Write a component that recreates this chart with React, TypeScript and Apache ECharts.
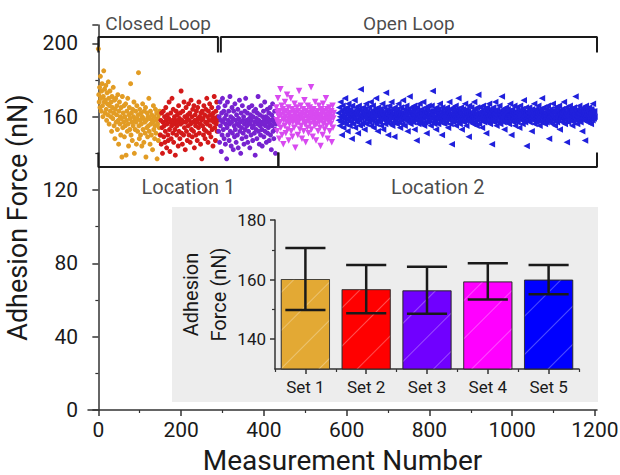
import React, { useEffect, useRef } from "react";
import * as echarts from "echarts";

// Measurement values (nN) for each set, one per measurement
const set1 = [
  197, 172, 168, 176, 165, 182, 170, 163, 174, 178, 166, 160, 171, 185, 168, 175, 162, 169, 177, 164,
  158, 173, 167, 161, 179, 170, 156, 166, 174, 163, 160, 168, 152, 171, 165, 159, 176, 162, 155, 169,
  148, 164, 170, 157, 161, 166, 153, 172, 158, 145, 163, 168, 156, 160, 150, 165, 159, 138, 171, 154,
  162, 157, 166, 149, 160, 155, 167, 139, 158, 163, 152, 170, 156, 144, 161, 165, 153, 159, 178, 150,
  162, 157, 147, 164, 155, 160, 168, 140, 158, 153, 163, 157, 145, 166, 159, 152, 161, 184, 155, 148,
  164, 158, 150, 162, 156, 144, 160, 167, 153, 159, 146, 163, 157, 151, 165, 138, 158, 154, 162, 149,
  160, 155, 170, 152, 159, 145, 163, 156, 150, 161, 158, 142, 157, 166, 153, 160, 148, 155, 164, 151,
  158, 162, 137, 156, 159, 147, 161, 154, 163, 150,
];
const set2 = [
  150, 158, 145, 162, 154, 140, 157, 163, 149, 155, 160, 146, 152, 165, 158, 143, 156, 161, 150, 147,
  159, 168, 153, 141, 157, 162, 148, 155, 170, 158, 151, 164, 146, 156, 160, 153, 139, 158, 163, 150,
  155, 161, 157, 144, 166, 152, 159, 148, 162, 156, 174, 151, 158, 145, 163, 157, 150, 168, 154, 160,
  142, 157, 165, 152, 159, 147, 161, 155, 167, 150, 158, 162, 146, 156, 169, 153, 160, 149, 164, 157,
  152, 166, 143, 158, 161, 155, 150, 163, 157, 147, 165, 159, 154, 168, 151, 160, 156, 145, 162, 158,
  137, 163, 155, 159, 150, 166, 153, 161, 148, 157, 164, 152, 170, 156, 160, 146, 163, 158, 151, 167,
  155, 161, 149, 158, 165, 153, 160, 144, 162, 157, 171, 154, 159, 147, 163, 156, 168, 152, 160, 158,
];
const set3 = [
  165, 152, 160, 146, 168, 155, 158, 141, 162, 150, 170, 157, 153, 163, 148, 159, 166, 145, 156, 161,
  137, 154, 168, 150, 158, 163, 147, 156, 171, 152, 160, 144, 157, 165, 151, 159, 142, 163, 155, 149,
  167, 153, 158, 146, 161, 156, 150, 164, 143, 159, 155, 169, 152, 157, 140, 162, 154, 148, 166, 158,
  151, 160, 145, 156, 163, 153, 170, 149, 158, 155, 162, 146, 157, 152, 165, 159, 143, 156, 161, 150,
  158, 166, 154, 147, 160, 155, 163, 151, 157, 139, 164, 153, 159, 148, 162, 156, 171, 152, 158, 145,
  161, 155, 150, 166, 157, 153, 144, 160, 156, 163, 149, 158, 168, 152, 155, 160, 146, 157, 164, 151,
  159, 154, 162, 147, 156, 165, 150, 158, 142, 161, 155, 167, 152, 159, 148, 157, 163, 153, 140, 156,
];
const set4 = [
  165, 158, 152, 162, 170, 156, 160, 148, 163, 157, 175, 154, 161, 166, 150, 159, 164, 145, 158, 162,
  155, 168, 160, 151, 163, 157, 172, 153, 159, 165, 147, 161, 156, 162, 158, 170, 152, 160, 164, 149,
  157, 163, 159, 154, 167, 161, 143, 158, 162, 156, 165, 160, 150, 163, 157, 174, 159, 153, 161, 166,
  155, 160, 148, 162, 158, 164, 152, 159, 169, 156, 161, 146, 163, 157, 160, 154, 166, 159, 151, 162,
  158, 165, 156, 161, 176, 153, 160, 163, 149, 158, 164, 157, 161, 155, 168, 159, 147, 162, 156, 160,
  163, 152, 159, 166, 157, 161, 154, 144, 160, 164, 158, 162, 150, 167, 156, 159, 163, 153, 161, 158,
  170, 155, 160, 164, 148, 159, 162, 157, 165, 152, 161, 158, 156, 163, 146, 160, 166, 154, 159, 162,
];
const set5 = [
  162, 158, 165, 155, 160, 168, 157, 163, 150, 161, 166, 159, 154, 164, 160, 157, 170, 162, 156, 163,
  159, 165, 152, 161, 167, 158, 163, 155, 160, 164, 157, 162, 148, 166, 159, 161, 156, 163, 160, 169,
  154, 162, 158, 165, 161, 157, 163, 151, 160, 166, 158, 164, 155, 161, 175, 159, 163, 156, 162, 160,
  165, 157, 161, 153, 164, 159, 162, 167, 156, 160, 163, 158, 146, 161, 165, 157, 162, 159, 168, 155,
  160, 163, 158, 166, 161, 154, 162, 159, 164, 157, 161, 170, 156, 163, 160, 152, 165, 158, 162, 161,
  157, 164, 160, 155, 163, 159, 167, 161, 153, 162, 158, 165, 160, 156, 163, 173, 159, 161, 157, 164,
  150, 162, 158, 166, 160, 163, 156, 161, 168, 159, 155, 164, 161, 157, 162, 149, 165, 160, 158, 163,
  161, 156, 164, 159, 162, 167, 157, 160, 163, 154, 161, 165, 158, 162, 160, 156, 169, 161, 159, 164,
  155, 162, 160, 158, 166, 161, 163, 152, 159, 164, 157, 162, 171, 160, 156, 163, 158, 165, 161, 159,
  163, 157, 161, 166, 153, 160, 164, 158, 162, 147, 165, 159, 161, 156, 163, 160, 167, 157, 162, 158,
  160, 164, 156, 162, 159, 168, 161, 155, 163, 160, 157, 165, 162, 151, 159, 164, 160, 157, 166, 161,
  158, 163, 160, 155, 162, 166, 159, 161, 174, 157, 163, 160, 156, 164, 158, 162, 153, 165, 160, 159,
  162, 156, 164, 160, 158, 167, 161, 157, 163, 159, 150, 165, 161, 158, 162, 160, 156, 164, 159, 163,
  157, 161, 165, 159, 162, 154, 163, 160, 168, 158, 161, 156, 164, 160, 145, 162, 159, 165, 157, 161,
  163, 158, 160, 166, 155, 162, 159, 164, 161, 157, 170, 160, 163, 156, 162, 158, 165, 161, 153, 160,
  159, 164, 161, 157, 163, 160, 167, 158, 162, 155, 164, 160, 158, 163, 161, 149, 166, 159, 162, 157,
  161, 165, 158, 162, 160, 156, 163, 159, 168, 161, 157, 164, 160, 162, 155, 165, 158, 161, 172, 159,
  156, 162, 160, 165, 158, 163, 161, 154, 160, 166, 159, 162, 157, 164, 160, 158, 163, 151, 161, 165,
  160, 157, 163, 159, 167, 161, 156, 162, 158, 164, 160, 145, 163, 159, 165, 161, 157, 162, 160, 168,
  158, 163, 155, 161, 164, 160, 157, 162, 159, 166, 161, 156, 163, 160, 158, 171, 162, 159, 164, 157,
  161, 153, 163, 160, 158, 165, 162, 157, 160, 164, 159, 161, 156, 163, 160, 167, 158, 162, 150, 161,
  164, 159, 162, 157, 160, 166, 161, 155, 163, 158, 162, 160, 165, 157, 161, 159, 163, 154, 160, 166,
  159, 162, 158, 164, 161, 156, 163, 160, 169, 158, 162, 157, 161, 165, 159, 144, 163, 160, 158, 162,
  160, 165, 157, 161, 163, 159, 162, 152, 164, 160, 158, 163, 161, 167, 156, 162, 159, 164, 160, 157,
  163, 158, 161, 166, 159, 162, 155, 160, 164, 161, 157, 163, 170, 159, 162, 158, 165, 160, 161, 156,
  162, 159, 164, 157, 161, 160, 166, 158, 163, 148, 160, 162, 157, 164, 161, 159, 163, 156, 167, 160,
  158, 163, 160, 155, 162, 165, 159, 161, 157, 164, 160, 162, 158, 166, 161, 153, 163, 159, 162, 160,
  164, 157, 161, 163, 159, 168, 160, 156, 162, 158, 165, 161, 146, 163, 160, 157, 164, 159, 161, 166,
  159, 162, 158, 164, 160, 155, 163, 161, 157, 165, 160, 162, 159, 171, 158, 163, 160, 156, 164, 161,
  162, 158, 166, 160, 163, 157, 161, 159, 164, 152, 162, 160, 165, 158, 161, 163, 147, 160, 166, 159,
  161, 164, 157, 163, 160, 158, 165, 162, 159, 161, 156, 164, 160, 163, 158, 167, 161, 159, 163, 160,
];

const scatterSets = [set1, set2, set3, set4, set5];
const setStarts = [1, 151, 291, 431, 581];
const scatterColors = ["#E29C24", "#D31919", "#7722D0", "#D84AF0", "#2020DC"];
const scatterSymbols = ["circle", "circle", "circle", "triangle", "triangle"];
const scatterRotate = [0, 0, 0, 180, 90];
const scatterSizes = [5, 5, 5, 6.5, 6.5];

// Inset bar chart
const barCategories = ["Set 1", "Set 2", "Set 3", "Set 4", "Set 5"];
const barMeans = [160.2, 156.8, 156.4, 159.4, 160.0];
const barErrors = [10.4, 8.1, 7.9, 6.1, 4.9];
const barColors = ["#E3A934", "#FF0000", "#7000FF", "#FF00FF", "#0000FF"];

// Axis ticks
const xMajorTicks = [0, 200, 400, 600, 800, 1000, 1200];
const xMinorTicks = [100, 300, 500, 700, 900, 1100];
const insetMajorTicks = [140, 160, 180];
const insetMinorTicks = [150, 170];

// Bracket annotations (measurement-number spans, force levels)
const topBrackets = [
  { label: "Closed Loop", from: 0, to: 289 },
  { label: "Open Loop", from: 296, to: 1205 },
];
const bottomBrackets = [
  { label: "Location 1", from: 0, to: 435 },
  { label: "Location 2", from: 435, to: 1205 },
];
const topBracketLevel = 203.5;
const topBracketTip = 195;
const bottomBracketLevel = 132.5;
const bottomBracketTip = 140.5;

const FONT = "Roboto";
const INK = "#1a1a1a";
const plain = (v: number) => String(v);

export default function App() {
  const ref = useRef<HTMLDivElement>(null);

  useEffect(() => {
    document.body.style.margin = "0";
    if (!ref.current) return;
    const chart = echarts.init(ref.current, null, { renderer: "svg" });

    const scatterSeries = scatterSets.map((vals, s) => ({
      type: "scatter",
      xAxisIndex: 0,
      yAxisIndex: 0,
      symbol: scatterSymbols[s],
      symbolRotate: scatterRotate[s],
      symbolSize: scatterSizes[s],
      itemStyle: { color: scatterColors[s], opacity: 1 },
      data: vals.map((v, i) => [setStarts[s] + i - 1, v]),
      silent: true,
      z: 3,
    }));

    const bracketLine = (from: number, to: number, level: number, tip: number) => ({
      type: "line",
      xAxisIndex: 0,
      yAxisIndex: 0,
      symbol: "none",
      silent: true,
      lineStyle: { color: INK, width: 2 },
      data: [
        [from, tip],
        [from, level],
        [to, level],
        [to, tip],
      ],
      z: 4,
    });

    const bracketSeries = [
      ...topBrackets.map((b) => bracketLine(b.from, b.to, topBracketLevel, topBracketTip)),
      ...bottomBrackets.map((b) => bracketLine(b.from, b.to, bottomBracketLevel, bottomBracketTip)),
    ];

    const labelSeries = [
      {
        type: "scatter",
        xAxisIndex: 0,
        yAxisIndex: 0,
        symbolSize: 0,
        silent: true,
        label: {
          show: true,
          position: "top",
          distance: 4,
          formatter: "{b}",
          color: INK,
          fontSize: 19,
          fontFamily: FONT,
        },
        data: topBrackets.map((b) => ({ name: b.label, value: [(b.from + b.to) / 2, topBracketLevel] })),
      },
      {
        type: "scatter",
        xAxisIndex: 0,
        yAxisIndex: 0,
        symbolSize: 0,
        silent: true,
        label: {
          show: true,
          position: "bottom",
          distance: 10,
          formatter: "{b}",
          color: INK,
          fontSize: 20,
          fontFamily: FONT,
        },
        data: bottomBrackets.map((b) => ({ name: b.label, value: [(b.from + b.to) / 2, bottomBracketLevel] })),
      },
    ];

    const option: any = {
      animation: false,
      textStyle: { fontFamily: FONT },
      graphic: [
        {
          type: "rect",
          shape: { x: 172, y: 207, width: 426, height: 195 },
          style: { fill: "#EDEDED" },
          z: -5,
          silent: true,
        },
      ],
      grid: [
        { left: 88, right: 23, top: 25, bottom: 65, outerBoundsMode: "none", containLabel: false },
        { left: 275, right: 41, top: 220, bottom: 106, outerBoundsMode: "none", containLabel: false },
      ],
      xAxis: [
        {
          type: "value",
          gridIndex: 0,
          position: "bottom",
          min: -25,
          max: 1205,
          name: "Measurement Number",
          nameLocation: "middle",
          nameGap: 36,
          nameTextStyle: { fontSize: 28, color: INK, fontFamily: FONT },
          axisLine: { show: true, lineStyle: { color: "#333", width: 1.5 } },
          axisTick: { show: true, length: 6, customValues: xMajorTicks, lineStyle: { color: "#333", width: 1.5 } },
          axisLabel: { customValues: xMajorTicks, formatter: plain, fontSize: 21, color: INK, margin: 9, fontFamily: FONT },
          splitLine: { show: false },
        },
        {
          type: "value",
          gridIndex: 0,
          position: "bottom",
          min: -25,
          max: 1205,
          axisLine: { show: false },
          axisTick: { show: true, length: 3, customValues: xMinorTicks, lineStyle: { color: "#333", width: 1.2 } },
          axisLabel: { show: false },
          splitLine: { show: false },
        },
        {
          type: "category",
          gridIndex: 1,
          position: "bottom",
          data: barCategories,
          axisLine: { show: true, lineStyle: { color: "#333", width: 1.5 } },
          axisTick: { show: true, alignWithLabel: true, length: 5, lineStyle: { color: "#333", width: 1.5 } },
          axisLabel: { fontSize: 17, color: INK, margin: 9, fontFamily: FONT },
          splitLine: { show: false },
        },
        {
          type: "category",
          gridIndex: 1,
          position: "bottom",
          data: barCategories,
          axisLine: { show: false },
          axisTick: { show: true, length: 3, lineStyle: { color: "#333", width: 1.2 } },
          axisLabel: { show: false },
          splitLine: { show: false },
        },
      ],
      yAxis: [
        {
          type: "value",
          gridIndex: 0,
          position: "left",
          min: 0,
          max: 210,
          interval: 40,
          name: "Adhesion Force (nN)",
          nameLocation: "middle",
          nameGap: 48,
          nameTextStyle: { fontSize: 27, color: INK, fontFamily: FONT },
          axisLine: { show: true, lineStyle: { color: "#333", width: 1.5 } },
          axisTick: { show: true, length: 6, lineStyle: { color: "#333", width: 1.5 } },
          minorTick: { show: true, splitNumber: 2, length: 3, lineStyle: { color: "#333", width: 1.2 } },
          axisLabel: { fontSize: 21, color: INK, margin: 10, fontFamily: FONT },
          splitLine: { show: false },
          minorSplitLine: { show: false },
        },
        {
          type: "value",
          gridIndex: 1,
          position: "left",
          min: 130,
          max: 180,
          name: "Adhesion\nForce (nN)",
          nameLocation: "middle",
          nameGap: 38,
          nameTextStyle: { fontSize: 20, color: INK, lineHeight: 28, fontFamily: FONT },
          axisLine: { show: true, lineStyle: { color: "#333", width: 1.5 } },
          axisTick: { show: true, length: 5, customValues: insetMajorTicks, lineStyle: { color: "#333", width: 1.5 } },
          axisLabel: { customValues: insetMajorTicks, fontSize: 17, color: INK, margin: 9, fontFamily: FONT },
          splitLine: { show: false },
        },
        {
          type: "value",
          gridIndex: 1,
          position: "left",
          min: 130,
          max: 180,
          axisLine: { show: false },
          axisTick: { show: true, length: 3, customValues: insetMinorTicks, lineStyle: { color: "#333", width: 1.2 } },
          axisLabel: { show: false },
          splitLine: { show: false },
        },
      ],
      series: [
        ...scatterSeries,
        ...bracketSeries,
        ...labelSeries,
        {
          type: "bar",
          xAxisIndex: 2,
          yAxisIndex: 1,
          barCategoryGap: "19%",
          silent: true,
          data: barMeans.map((v, i) => ({
            value: v,
            itemStyle: {
              color: barColors[i],
              borderColor: "rgba(40,40,40,0.6)",
              borderWidth: 1,
              decal: {
                symbol: "rect",
                symbolSize: 1,
                dashArrayX: [[1, 0]],
                dashArrayY: [1, 26],
                rotation: -Math.PI / 4,
                color: "rgba(255,255,255,0.3)",
              },
            },
          })),
          z: 2,
        },
        {
          type: "custom",
          xAxisIndex: 2,
          yAxisIndex: 1,
          silent: true,
          z: 10,
          data: barMeans.map((m, i) => [i, m - barErrors[i], m + barErrors[i]]),
          renderItem: (params: any, api: any) => {
            const x = api.value(0);
            const lo = api.coord([x, api.value(1)]);
            const hi = api.coord([x, api.value(2)]);
            const half = api.size([1, 0])[0] * 0.33;
            const style = { stroke: INK, lineWidth: 2.5 };
            return {
              type: "group",
              children: [
                { type: "line", shape: { x1: hi[0], y1: hi[1], x2: lo[0], y2: lo[1] }, style },
                { type: "line", shape: { x1: hi[0] - half, y1: hi[1], x2: hi[0] + half, y2: hi[1] }, style },
                { type: "line", shape: { x1: lo[0] - half, y1: lo[1], x2: lo[0] + half, y2: lo[1] }, style },
              ],
            };
          },
        },
      ],
    };

    chart.setOption(option);
    return () => chart.dispose();
  }, []);

  return <div ref={ref} style={{ width: 620, height: 475 }} />;
}
